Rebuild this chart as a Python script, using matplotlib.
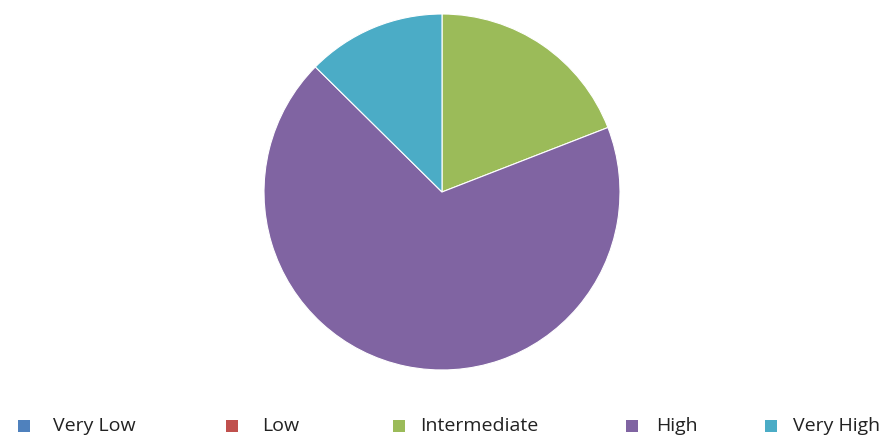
import matplotlib
matplotlib.use("Agg")
import matplotlib.pyplot as plt
from matplotlib.patches import Rectangle

categories = ["Very Low", "Low", "Intermediate", "High", "Very High"]
values = [0.0, 0.0, 19.1, 68.3, 12.6]
colors = ["#4F81BD", "#C0504D", "#9BBB59", "#8064A2", "#4BACC6"]

W, H = 883, 437
fig = plt.figure(figsize=(W / 100, H / 100), dpi=100)

# pie area: center ~ (442, 192) px, radius ~178 px
cx, cy, r = 442, 192, 178
ax = fig.add_axes([(cx - r) / W, (H - cy - r) / H, 2 * r / W, 2 * r / H])
ax.pie(values, colors=colors, startangle=90, counterclock=False,
       radius=1.0, wedgeprops=dict(edgecolor="white", linewidth=0.8))
ax.set_xlim(-1, 1)
ax.set_ylim(-1, 1)
ax.set_aspect("auto")
ax.axis("off")

# legend row along the bottom
marker_x = [18, 226, 393, 626, 765]
text_x = [53, 262, 420, 656, 793]
ly = 426
for name, col, mx, tx in zip(categories, colors, marker_x, text_x):
    fig.patches.append(Rectangle((mx / W, (H - ly - 6) / H), 12 / W, 12 / H,
                                 transform=fig.transFigure, facecolor=col,
                                 edgecolor="none"))
    fig.text(tx / W, (H - ly) / H, name, ha="left", va="center",
             fontsize=14, family="Open Sans", color="#222222")

fig.savefig("out.png", dpi=100)
